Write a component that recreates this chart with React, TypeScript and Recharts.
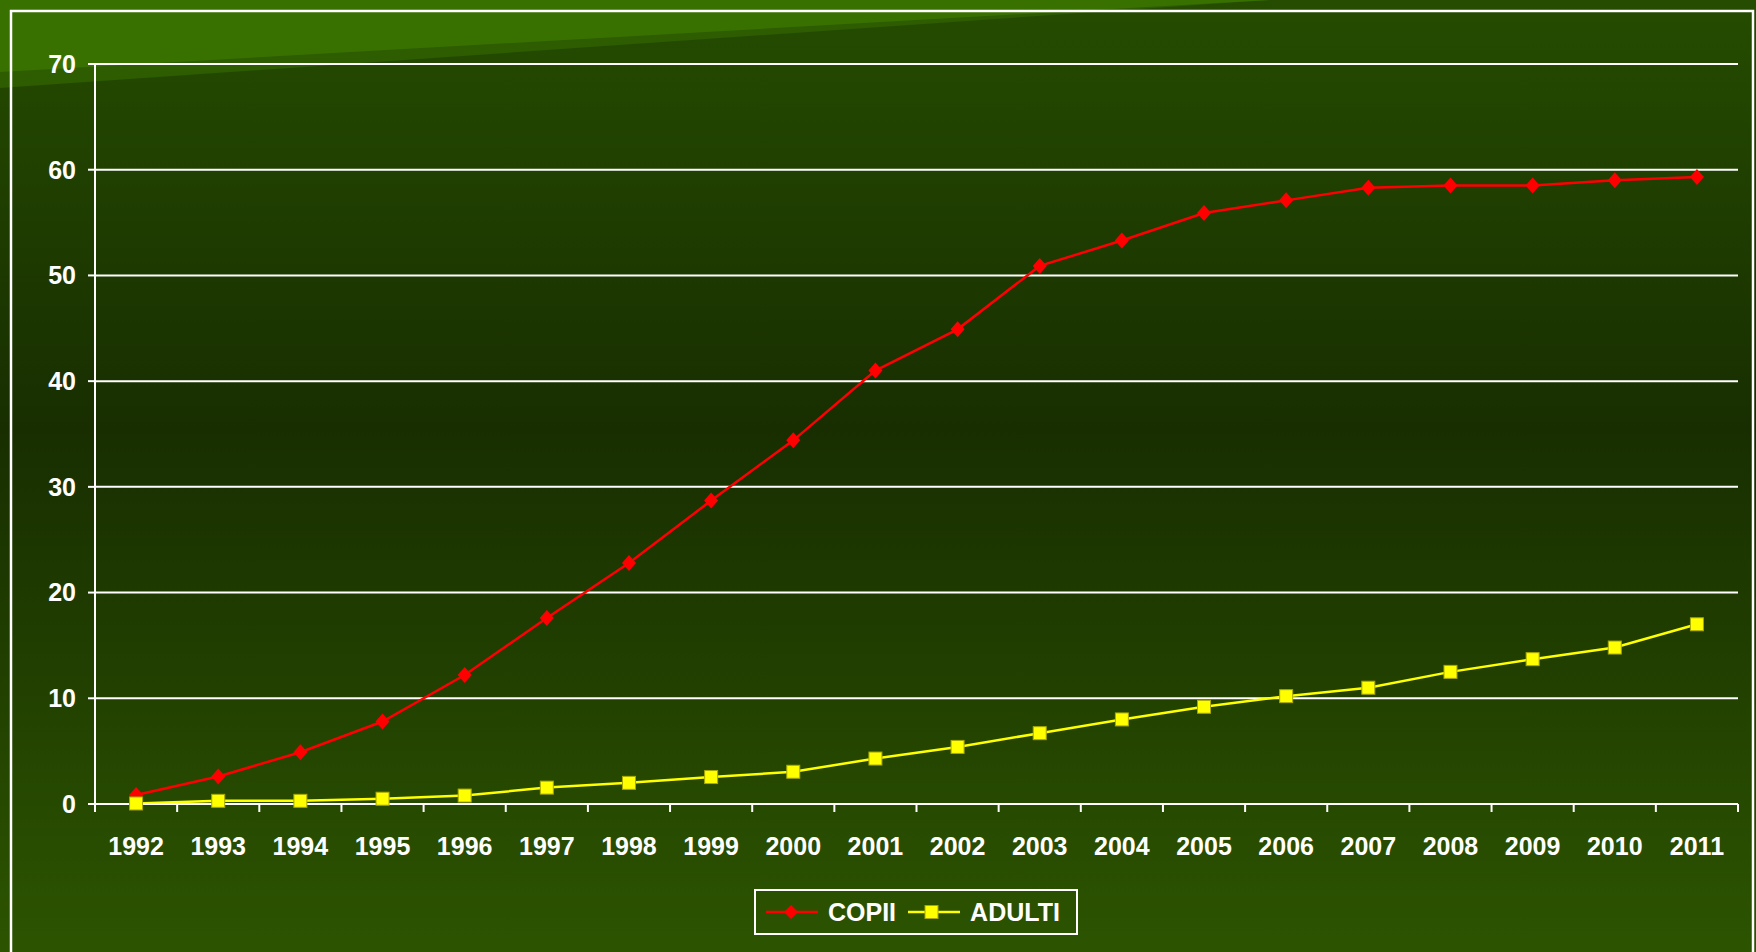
import React from 'react';
import { LineChart, Line, XAxis, YAxis, CartesianGrid, Legend } from 'recharts';

const years = [
  '1992', '1993', '1994', '1995', '1996', '1997', '1998', '1999', '2000', '2001',
  '2002', '2003', '2004', '2005', '2006', '2007', '2008', '2009', '2010', '2011',
];
const copii = [0.85, 2.6, 4.9, 7.8, 12.2, 17.6, 22.8, 28.7, 34.4, 41.0, 44.9, 50.9, 53.3, 55.9, 57.1, 58.3, 58.5, 58.5, 59.0, 59.3];
const adulti = [0.05, 0.3, 0.3, 0.5, 0.8, 1.55, 2.0, 2.55, 3.05, 4.3, 5.4, 6.7, 8.0, 9.2, 10.2, 11.0, 12.5, 13.7, 14.8, 17.0];
const yTicks = [0, 10, 20, 30, 40, 50, 60, 70];
const seriesOrder = ['copii', 'adulti'];

const data = years.map((year, i) => ({ idx: i, year, copii: copii[i], adulti: adulti[i] }));
// tick marks sit between the years, labels sit in the middle of each slot
const xBounds = years.map((_, i) => i - 0.5).concat(years.length - 0.5);

const W = 1756;
const H = 952;
const PLOT_LEFT = 95;
const PLOT_RIGHT = 1738;
const BAND = (PLOT_RIGHT - PLOT_LEFT) / years.length;
const FONT = '"Liberation Sans", Arial, sans-serif';

const XTick = (props: any) => {
  const { x, y, payload } = props;
  const i = payload.value + 0.5;
  if (i < 0 || i >= years.length) return <g />;
  return (
    <text x={x + BAND / 2} y={y} dy="0.71em" textAnchor="middle" fill="#fff"
      fontFamily={FONT} fontWeight="bold" fontSize={25}>
      {years[i]}
    </text>
  );
};

const Diamond = (props: any) => {
  const { cx, cy, index } = props;
  if (cx == null || cy == null) return <g key={`d-${index}`} />;
  return (
    <polygon key={`d-${index}`} fill="#ff0000"
      points={`${cx},${cy - 8} ${cx + 7},${cy} ${cx},${cy + 8} ${cx - 7},${cy}`} />
  );
};

const Square = (props: any) => {
  const { cx, cy, index } = props;
  if (cx == null || cy == null) return <g key={`s-${index}`} />;
  return (
    <rect key={`s-${index}`} x={cx - 6.5} y={cy - 6.5} width={13} height={13}
      fill="#ffff00" stroke="#a8a800" strokeWidth={1} />
  );
};

const LegendIcon = ({ kind }: { kind: string }) => (
  <svg width={52} height={20} style={{ display: 'block' }}>
    {kind === 'copii' ? (
      <>
        <line x1={0} y1={10} x2={52} y2={10} stroke="#ff0000" strokeWidth={2.5} />
        <polygon points="25,3 32,10 25,17 18,10" fill="#ff0000" />
      </>
    ) : (
      <>
        <line x1={0} y1={10} x2={52} y2={10} stroke="#ffff00" strokeWidth={2.5} />
        <rect x={17} y={3.5} width={13} height={13} fill="#ffff00" stroke="#a8a800" strokeWidth={1} />
      </>
    )}
  </svg>
);

const renderLegend = (props: any) => {
  const items = [...(props.payload || [])].sort(
    (a: any, b: any) => seriesOrder.indexOf(a.dataKey) - seriesOrder.indexOf(b.dataKey)
  );
  return (
    <div style={{
      boxSizing: 'border-box', width: 324, height: 46, border: '2px solid #fff',
      display: 'flex', alignItems: 'center', paddingLeft: 10,
      fontFamily: FONT, fontWeight: 'bold', fontSize: 25, color: '#fff',
    }}>
      {items.map((item: any, i: number) => (
        <div key={item.value} style={{ display: 'flex', alignItems: 'center', marginLeft: i === 0 ? 0 : 12 }}>
          <LegendIcon kind={item.dataKey} />
          <span style={{ marginLeft: 10, lineHeight: '26px' }}>{item.value}</span>
        </div>
      ))}
    </div>
  );
};

export default function App() {
  return (
    <div style={{ position: 'absolute', left: 0, top: 0, width: W, height: H, overflow: 'hidden' }}>
      <svg width={W} height={H} style={{ position: 'absolute', left: 0, top: 0 }}>
        <defs>
          <linearGradient id="bg" x1="0" y1="0" x2="0" y2="1">
            <stop offset="0%" stopColor="#254c00" />
            <stop offset="45%" stopColor="#182e00" />
            <stop offset="100%" stopColor="#2c5400" />
          </linearGradient>
        </defs>
        <rect x={0} y={0} width={W} height={H} fill="url(#bg)" />
        <polygon points="0,0 1270,0 0,88" fill="#2e5c00" />
        <polygon points="0,0 1270,0 0,72" fill="#397100" />
        <rect x={11} y={11} width={1742} height={1000} fill="none" stroke="#fff" strokeWidth={2.5} />
      </svg>
      <div style={{ position: 'absolute', left: 0, top: 0 }}>
        <LineChart width={W} height={H} data={data}
          margin={{ top: 64, right: W - PLOT_RIGHT, bottom: 0, left: 0 }}>
          <CartesianGrid vertical={false} stroke="#fff" strokeWidth={2} strokeOpacity={1} />
          <XAxis type="number" dataKey="idx" domain={[-0.5, years.length - 0.5]} ticks={xBounds}
            interval={0} height={148} tickSize={8} tickMargin={25} tick={<XTick />}
            axisLine={{ stroke: '#fff', strokeWidth: 2 }} tickLine={{ stroke: '#fff', strokeWidth: 2 }} />
          <YAxis domain={[0, 70]} ticks={yTicks} interval={0} width={PLOT_LEFT} tickSize={7} tickMargin={12}
            tick={{ fill: '#fff', fontFamily: FONT, fontWeight: 'bold', fontSize: 25 }}
            axisLine={{ stroke: '#fff', strokeWidth: 2 }} tickLine={{ stroke: '#fff', strokeWidth: 2 }} />
          <YAxis yAxisId="frame" orientation="right" width={0} tick={false} tickLine={false}
            axisLine={{ stroke: '#fff', strokeWidth: 2 }} />
          <Legend layout="horizontal" verticalAlign="middle" align="center" content={renderLegend}
            wrapperStyle={{ left: 754, top: 889, width: 324, height: 46 }} />
          <Line name="COPII" dataKey="copii" stroke="#ff0000" strokeWidth={2.5}
            dot={Diamond} activeDot={false} isAnimationActive={false} />
          <Line name="ADULTI" dataKey="adulti" stroke="#ffff00" strokeWidth={2.5}
            dot={Square} activeDot={false} isAnimationActive={false} />
        </LineChart>
      </div>
    </div>
  );
}
